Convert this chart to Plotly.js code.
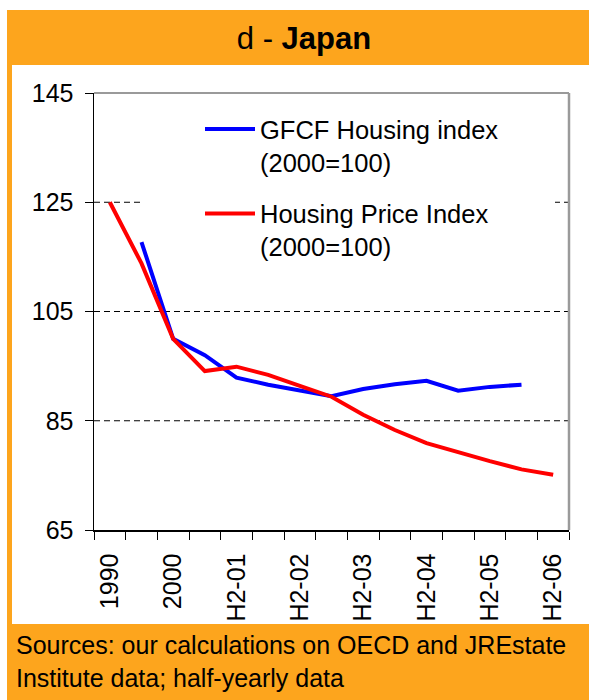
<!DOCTYPE html>
<html>
<head>
<meta charset="utf-8">
<script src="https://cdn.plot.ly/plotly-3.0.1.min.js"></script>
<style>
  html, body { margin: 0; padding: 0; background: #ffffff; }
  #chart { width: 589px; height: 700px; }
</style>
</head>
<body>
<div id="chart"></div>
<script>
// ---- data ----
const categories = ["1990","1995","2000","H1-01","H2-01","H1-02","H2-02","H1-03","H2-03","H1-04","H2-04","H1-05","H2-05","H1-06","H2-06"];
const tickLabels = ["1990","","2000","","H2-01","","H2-02","","H2-03","","H2-04","","H2-05","","H2-06"];
const gfcfHousing = [null,117.7,100,97.0,92.9,91.6,90.6,89.5,90.8,91.7,92.3,90.5,91.2,91.6,null];
const housingPrice = [125,113.8,100,94.1,94.9,93.4,91.4,89.4,86.1,83.3,80.9,79.2,77.6,76.1,75.1];
const seriesNames = ["GFCF Housing index<br>(2000=100)", "Housing Price Index<br>(2000=100)"];
const yTicks = [65,85,105,125,145];
const gridValues = [85,105,125];

// ---- layout geometry (pixels) ----
const W = 589, H = 700;
const L = 94, R = 20, T = 93, B = 170;
const PW = W - L - R, PH = H - T - B;
const px = x => (x - L) / PW;
const py = y => (H - B - y) / PH;

const FONT = "Liberation Sans, Arial, sans-serif";
const ORANGE = "#FDA51D";

const traces = [
  {
    x: categories, y: gfcfHousing, type: "scatter", mode: "lines",
    name: seriesNames[0], legendgroup: "g1",
    line: { color: "#0000FF", width: 4 }
  },
  {
    x: categories, y: housingPrice, type: "scatter", mode: "lines",
    name: seriesNames[1], legendgroup: "g2",
    line: { color: "#FF0000", width: 4 }
  }
];

const shapes = [
  // orange frame
  { type: "rect", xref: "paper", yref: "paper", layer: "below",
    x0: px(7), x1: px(640), y0: py(740), y1: py(10),
    fillcolor: ORANGE, line: { width: 0 } },
  // white inner panel
  { type: "rect", xref: "paper", yref: "paper", layer: "below",
    x0: px(12), x1: px(640), y0: py(624), y1: py(65),
    fillcolor: "#ffffff", line: { width: 0 } }
];
// dashed gridlines
gridValues.forEach(v => shapes.push({
  type: "line", xref: "paper", yref: "y", layer: "below",
  x0: 0, x1: 1, y0: v, y1: v,
  line: { color: "#000000", width: 1, dash: "6px,4px" }
}));
shapes.push(
  // legend white box hiding part of the gridline
  { type: "rect", xref: "paper", yref: "paper", layer: "below",
    x0: px(142), x1: px(555), y0: py(275), y1: py(100),
    fillcolor: "#ffffff", line: { width: 0 } },
  // gray top border
  { type: "line", xref: "paper", yref: "paper", layer: "above",
    x0: 0, x1: 1, y0: 1, y1: 1,
    line: { color: "#9A9A9A", width: 2 } },
  // gray right border
  { type: "line", xref: "paper", yref: "paper", layer: "above",
    x0: 1, x1: 1, y0: 0, y1: 1,
    line: { color: "#9A9A9A", width: 2.5 } }
);

const layout = {
  width: W, height: H, autosize: false,
  margin: { l: L, r: R, t: T, b: B, pad: 0 },
  paper_bgcolor: "#ffffff",
  plot_bgcolor: "rgba(0,0,0,0)",
  font: { family: FONT, size: 25, color: "#000000" },
  title: {
    text: "d - <b>Japan</b>",
    font: { family: FONT, size: 31, color: "#000000" },
    xref: "container", yref: "container",
    x: 304 / W, xanchor: "center",
    y: 1 - 38 / H, yanchor: "middle"
  },
  showlegend: true,
  legend: {
    x: px(200), xanchor: "left",
    y: py(106), yanchor: "top",
    bgcolor: "rgba(0,0,0,0)",
    borderwidth: 0,
    font: { family: FONT, size: 25.5, color: "#000000" },
    valign: "top",
    itemwidth: 50,
    tracegroupgap: 15,
    traceorder: "grouped"
  },
  xaxis: {
    type: "category",
    range: [-0.5, categories.length - 0.5],
    tickmode: "array",
    tickvals: categories,
    ticktext: tickLabels,
    tickson: "boundaries",
    ticks: "outside", ticklen: 8, tickwidth: 1, tickcolor: "#000000",
    tickangle: -90,
    ticklabelstandoff: 12,
    showgrid: false, zeroline: false,
    showline: true, linecolor: "#000000", linewidth: 1.5,
    tickfont: { family: FONT, size: 25, color: "#000000" },
    fixedrange: true
  },
  yaxis: {
    range: [65, 145],
    tickmode: "array",
    tickvals: yTicks,
    ticks: "outside", ticklen: 8, tickwidth: 1, tickcolor: "#000000",
    ticklabelstandoff: 6,
    showgrid: false,
    zeroline: false,
    showline: true, linecolor: "#000000", linewidth: 1.5,
    tickfont: { family: FONT, size: 25, color: "#000000" },
    fixedrange: true
  },
  shapes: shapes,
  annotations: [
    { text: "Sources: our calculations on OECD and JREstate<br>Institute data; half-yearly data",
      xref: "paper", yref: "paper",
      x: px(14), xanchor: "left",
      y: py(629), yanchor: "top",
      align: "left", showarrow: false,
      font: { family: FONT, size: 25, color: "#000000" } }
  ]
};

Plotly.newPlot("chart", traces, layout, { displayModeBar: false, staticPlot: true });
</script>
</body>
</html>
